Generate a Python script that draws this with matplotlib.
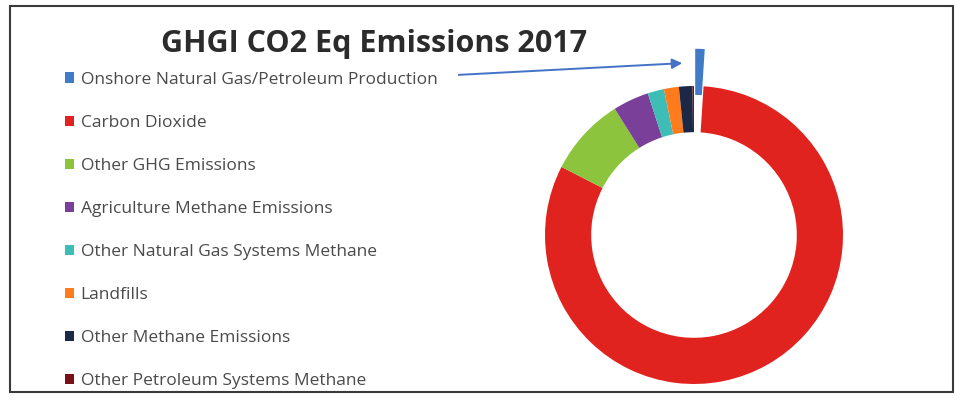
import matplotlib
matplotlib.use("Agg")
import matplotlib.pyplot as plt
from matplotlib.patches import Rectangle

# GHGI 2017, MMT CO2 Eq
labels = [
    "Onshore Natural Gas/Petroleum Production",
    "Carbon Dioxide",
    "Other GHG Emissions",
    "Agriculture Methane Emissions",
    "Other Natural Gas Systems Methane",
    "Landfills",
    "Other Methane Emissions",
    "Other Petroleum Systems Methane",
]
values = [66, 5263, 550, 252, 115, 104, 95, 10]
colors = ["#3F7BC6", "#E0231F", "#8CC43D", "#7A3F98", "#3DBDB6",
          "#FF7B1C", "#1B2946", "#7A1016"]
explode = [0.25, 0, 0, 0, 0, 0, 0, 0]

W, H = 957, 401
fig = plt.figure(figsize=(W / 100, H / 100), dpi=100)
fig.patch.set_facecolor("white")

# donut: centre (694, 235) px, outer radius 149 px
lim = 1.3
r_px = 149
side = 2 * lim * r_px
cx, cy = 694, H - 235
ax = fig.add_axes([(cx - side / 2) / W, (cy - side / 2) / H, side / W, side / H])
wedges, _ = ax.pie(values, colors=colors, explode=explode, startangle=90,
                   counterclock=False,
                   wedgeprops=dict(width=0.31, linewidth=0))
ax.set_xlim(-lim, lim)
ax.set_ylim(-lim, lim)
ax.set_aspect("equal")
ax.axis("off")

fig.text(374 / W, 1 - 44 / H, "GHGI CO2 Eq Emissions 2017", ha="center",
         va="center", fontsize=22, fontweight="bold", color="#2b2b2b",
         family="Open Sans")

leg = fig.legend(wedges, labels, loc="upper left",
                 bbox_to_anchor=(56 / W, 1 - 63 / H), frameon=False,
                 labelspacing=1.56, handlelength=0.52,
                 handleheight=0.52, handletextpad=0.4, borderpad=0,
                 prop={"family": "Open Sans", "size": 12.5})
for t in leg.get_texts():
    t.set_color("#4a4a4a")

ax_arrow = fig.add_axes([0, 0, 1, 1], facecolor="none")
ax_arrow.set_xlim(0, W)
ax_arrow.set_ylim(H, 0)
ax_arrow.axis("off")
ax_arrow.annotate("", xy=(685, 63), xytext=(456, 75),
                  arrowprops=dict(arrowstyle="-|>", color="#4472C4", lw=1.4,
                                  mutation_scale=15))
ax_arrow.add_patch(Rectangle((10, 6), 943, 386, fill=False,
                             edgecolor="#3a3a3a", lw=1.5))

fig.savefig("out.png", dpi=100)
